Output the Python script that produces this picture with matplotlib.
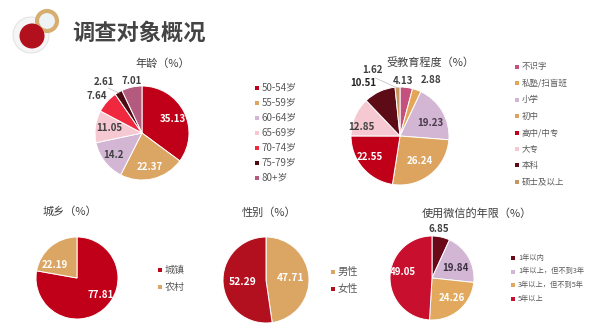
import numpy as np
import matplotlib
matplotlib.use('Agg')
import matplotlib.pyplot as plt
from matplotlib.patches import Circle

plt.rcParams['font.family'] = ['Noto Sans CJK SC', 'DejaVu Sans']

W, H = 600, 335

# data
age_labels = ['50-54岁', '55-59岁', '60-64岁', '65-69岁', '70-74岁', '75-79岁', '80+岁']
age_values = [35.13, 22.37, 14.2, 11.05, 7.64, 2.61, 7.01]

edu_labels = ['不识字', '私塾/扫盲班', '小学', '初中', '高中/中专', '大专', '本科', '硕士及以上']
edu_values = [4.13, 2.88, 19.23, 26.24, 22.55, 12.85, 10.51, 1.62]

area_labels = ['城镇', '农村']
area_values = [77.81, 22.19]

sex_labels = ['男性', '女性']
sex_values = [47.71, 52.29]

wx_labels = ['1年以内', '1年以上，但不到3年', '3年以上，但不到5年', '5年以上']
wx_values = [6.85, 19.84, 24.26, 49.05]

# colours
RED = '#C00018'
TAN = '#DBA664'
LILAC = '#D2B6D4'
PINK = '#F6C8D1'
age_colors = [RED, TAN, LILAC, PINK, '#EF2840', '#4E0A12', '#B45A7E']
edu_colors = ['#C4507E', '#E3A657', LILAC, '#DCA45E', RED, PINK, '#5E0B18', '#C49660']
area_colors = [RED, TAN]
sex_colors = [TAN, '#B3101F']
wx_colors = ['#6A0A18', LILAC, '#E2A95E', '#C8102E']

DARK = '#404040'
GREY = '#595959'

fig = plt.figure(figsize=(W / 100, H / 100), dpi=100)
fig.patch.set_facecolor('white')

bg = fig.add_axes([0, 0, 1, 1])
bg.set_xlim(0, W)
bg.set_ylim(H, 0)
bg.axis('off')

# logo
bg.add_patch(Circle((31, 35), 18, facecolor='#F5F5F5', edgecolor='#E4E4E4', lw=0.8))
bg.add_patch(Circle((47, 21), 10, facecolor='#EEF3F6', edgecolor='#D6AE70', lw=3))
bg.add_patch(Circle((32, 36), 12.5, facecolor='#B3101E', edgecolor='none'))
bg.text(72, 33, '调查对象概况', fontsize=16, fontweight='bold', color='#444444',
        va='center', ha='left')

# panel titles
bg.text(163, 63, '年龄（%）', fontsize=8, color=DARK, ha='center', va='center')
bg.text(430, 63, '受教育程度（%）', fontsize=8, color=DARK, ha='center', va='center')
bg.text(70, 212, '城乡（%）', fontsize=8, color=DARK, ha='center', va='center')
bg.text(269, 213, '性别（%）', fontsize=8, color=DARK, ha='center', va='center')
bg.text(477, 213, '使用微信的年限（%）', fontsize=8, color=DARK, ha='center', va='center')


def legend(x, y0, step, labels, colors, size=7, msize=3.2):
    for i, (lab, c) in enumerate(zip(labels, colors)):
        y = y0 + i * step
        bg.scatter([x], [y], marker='s', s=msize ** 2, color=c, lw=0)
        bg.text(x + 5, y, lab, fontsize=size, color=GREY, ha='left', va='center')


def draw_pie(cx, cy, r, values, colors, txt_colors, place, leaders=(), size=7):
    ax = fig.add_axes([(cx - r) / W, 1 - (cy + r) / H, 2 * r / W, 2 * r / H])
    wedges, _ = ax.pie(values, colors=colors, startangle=90, counterclock=False,
                       wedgeprops=dict(edgecolor='white', linewidth=0.7))
    ax.set_xlim(-1, 1)
    ax.set_ylim(-1, 1)
    ax.axis('off')
    for i, (w, v, tc, (d, da)) in enumerate(zip(wedges, values, txt_colors, place)):
        mid = (w.theta1 + w.theta2) / 2
        ang = np.deg2rad(mid + da)
        tx, ty = d * np.cos(ang), d * np.sin(ang)
        ax.text(tx, ty, f'{v:g}', fontsize=size, fontweight='bold', color=tc,
                ha='center', va='center')
        if i in leaders:
            a0 = np.deg2rad(mid)
            ax.plot([0.98 * np.cos(a0), tx * 0.88], [0.98 * np.sin(a0), ty * 0.88],
                    color='#BBBBBB', lw=0.5, clip_on=False)
    return ax


W1 = 'white'
draw_pie(142, 133, 47, age_values, age_colors,
         [W1, W1, DARK, DARK, DARK, DARK, DARK],
         [(0.72, -3), (0.75, 0), (0.77, 0), (0.7, 0), (1.24, 2), (1.36, 7), (1.12, -1)],
         leaders=(5,))
legend(257, 88, 15, age_labels, age_colors, size=7)

draw_pie(400, 136, 49, edu_values, edu_colors,
         [DARK, DARK, '#4A3A4A', W1, W1, DARK, '#222222', DARK],
         [(1.12, 4), (1.3, -9), (0.67, -7), (0.64, 0), (0.75, -5), (0.8, 10), (1.32, 10), (1.46, 20)],
         leaders=(7,), size=7)
legend(517, 67, 16.4, edu_labels, edu_colors, size=6.1)

draw_pie(77, 278, 41, area_values, area_colors,
         [W1, W1], [(0.7, 14), (0.62, 20)], size=7)
legend(160, 270, 17, area_labels, area_colors, size=7.2)

draw_pie(266, 280, 43, sex_values, sex_colors,
         [W1, W1], [(0.58, 0), (0.54, 0)], size=7.4)
legend(333, 272, 17, sex_labels, sex_colors, size=7.4)

draw_pie(432, 278, 42, wx_values, wx_colors,
         [DARK, '#3A3040', W1, W1],
         [(1.18, 5), (0.6, -6), (0.67, 5), (0.7, -10)], size=7)
legend(513, 258, 13.5, wx_labels, wx_colors, size=5.2, msize=2.8)

fig.savefig('out.png', dpi=100, facecolor='white')
